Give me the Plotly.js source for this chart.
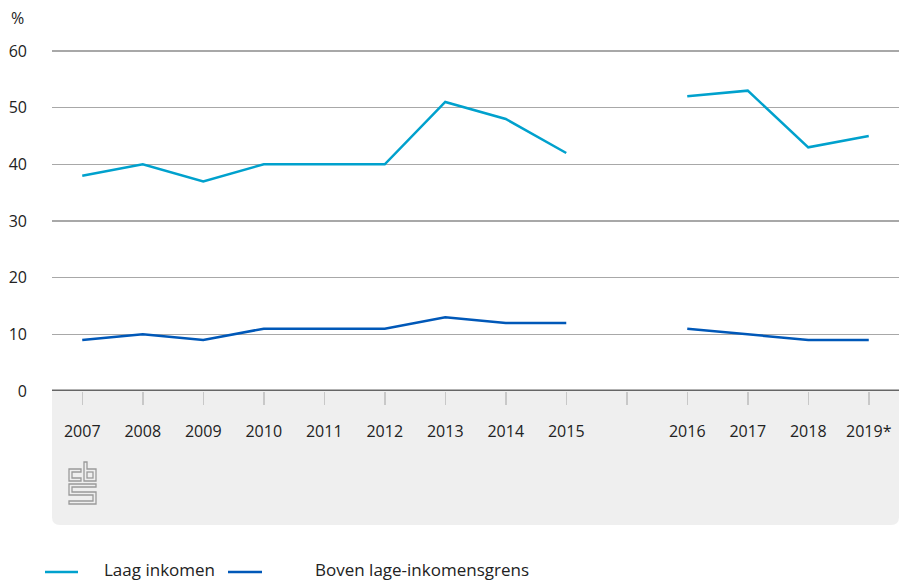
<!DOCTYPE html>
<html>
<head>
<meta charset="utf-8">
<script src="https://cdn.plot.ly/plotly-3.0.1.min.js"></script>
<style>html,body{margin:0;padding:0;background:#fff;}#chart{width:899px;height:581px;}</style>
</head>
<body>
<div id="chart"></div>
<script>
const years = ['2007','2008','2009','2010','2011','2012','2013','2014','2015',' ','2016','2017','2018','2019*'];
const laagInkomen = [38, 40, 37, 40, 40, 40, 51, 48, 42, null, 52, 53, 43, 45];
const bovenGrens = [9, 10, 9, 11, 11, 11, 13, 12, 12, null, 11, 10, 9, 9];
const seriesNames = ['Laag inkomen', 'Boven lage-inkomensgrens'];
const seriesColors = ['#00a1cd', '#0058b8'];

const FONT = '"Open Sans", "Noto Sans", sans-serif';

const logoSvg = '<svg xmlns="http://www.w3.org/2000/svg" width="30" height="45" viewBox="0 0 30 45">' +
  '<g fill="none" stroke="#9a9a9a" stroke-width="1.3">' +
  '<path d="M1 8 H13 V11 H4 V17 H13 V20 H1 Z"/>' +
  '<path d="M16 1 H19 V8 H28 V20 H16 Z"/>' +
  '<rect x="19" y="11" width="6" height="6"/>' +
  '<path d="M1 23 H28 V26 H4 V31 H28 V43 H1 V40 H25 V34 H1 Z"/>' +
  '</g></svg>';

const traces = [
  {x: years, y: laagInkomen, name: seriesNames[0], type: 'scatter', mode: 'lines',
   line: {color: seriesColors[0], width: 2.5}, connectgaps: false, showlegend: false},
  {x: years, y: bovenGrens, name: seriesNames[1], type: 'scatter', mode: 'lines',
   line: {color: seriesColors[1], width: 2.5}, connectgaps: false, showlegend: false}
];

const T = 49, B = 190;
const H = 581 - T - B, W = 847;
const yMax = 60 * H / 340;
const rx = 8 / W, ry = 8 / H;
const by = -(525 - 391) / H;
const boxPath = `M 0 0 L 1 0 L 1 ${by + ry} Q 1 ${by} ${1 - rx} ${by} L ${rx} ${by} Q 0 ${by} 0 ${by + ry} Z`;

// manual legend geometry (pixels)
const legLineY = -(572 - 391) / H;
const legTextY = -(569 - 391) / H;
const legLineX = [[45, 78], [228, 262]];
const legTextX = [103, 314];

const shapes = [
  {type: 'path', xref: 'paper', yref: 'paper', path: boxPath,
   fillcolor: '#efefef', line: {width: 0}, layer: 'below'},
  {type: 'line', xref: 'paper', yref: 'y', x0: 0, x1: 1, y0: 0, y1: 0,
   line: {color: '#666666', width: 3}, layer: 'above'}
];
const annotations = [
  {text: '%', xref: 'paper', yref: 'paper', x: (9 - 52) / W, y: 1 + (T - 18) / H,
   xanchor: 'left', yanchor: 'middle', showarrow: false, font: {size: 16, color: '#222'}}
];
seriesNames.forEach((n, i) => {
  shapes.push({type: 'line', xref: 'paper', yref: 'paper',
    x0: (legLineX[i][0] - 52) / W, x1: (legLineX[i][1] - 52) / W, y0: legLineY, y1: legLineY,
    line: {color: seriesColors[i], width: 2.5}});
  annotations.push({text: n, xref: 'paper', yref: 'paper', x: (legTextX[i] - 52) / W, y: legTextY,
    xanchor: 'left', yanchor: 'middle', showarrow: false, borderpad: 0,
    font: {size: 17, color: '#222'}});
});

const layout = {
  width: 899, height: 581,
  margin: {l: 52, r: 0, t: T, b: B, autoexpand: false},
  paper_bgcolor: '#ffffff', plot_bgcolor: 'rgba(0,0,0,0)',
  font: {family: FONT, size: 16, color: '#222'},
  showlegend: false,
  xaxis: {type: 'category', categoryorder: 'array', categoryarray: years,
          range: [-0.5, 13.5], showgrid: false, zeroline: false,
          showline: false, ticks: 'outside', ticklen: 13, tickwidth: 1.5, tickcolor: '#c8c8c8',
          ticklabelstandoff: 13, tickfont: {size: 16, color: '#222'}, fixedrange: true},
  yaxis: {range: [0, yMax], tickvals: [0,10,20,30,40,50,60], showgrid: true,
          gridcolor: '#a8a8a8', gridwidth: 1.5, zeroline: false, showline: false,
          ticks: '', ticklabelstandoff: 24, tickfont: {size: 16, color: '#222'}, fixedrange: true},
  shapes: shapes,
  annotations: annotations,
  images: [
    {source: 'data:image/svg+xml;charset=utf-8,' + encodeURIComponent(logoSvg),
     xref: 'paper', yref: 'paper', x: (68 - 52) / W, y: -(461 - 391) / H,
     sizex: 30 / W, sizey: 45 / H, xanchor: 'left', yanchor: 'top', sizing: 'stretch', layer: 'above'}
  ]
};

Plotly.newPlot('chart', traces, layout, {displayModeBar: false, staticPlot: true});
</script>
</body>
</html>
